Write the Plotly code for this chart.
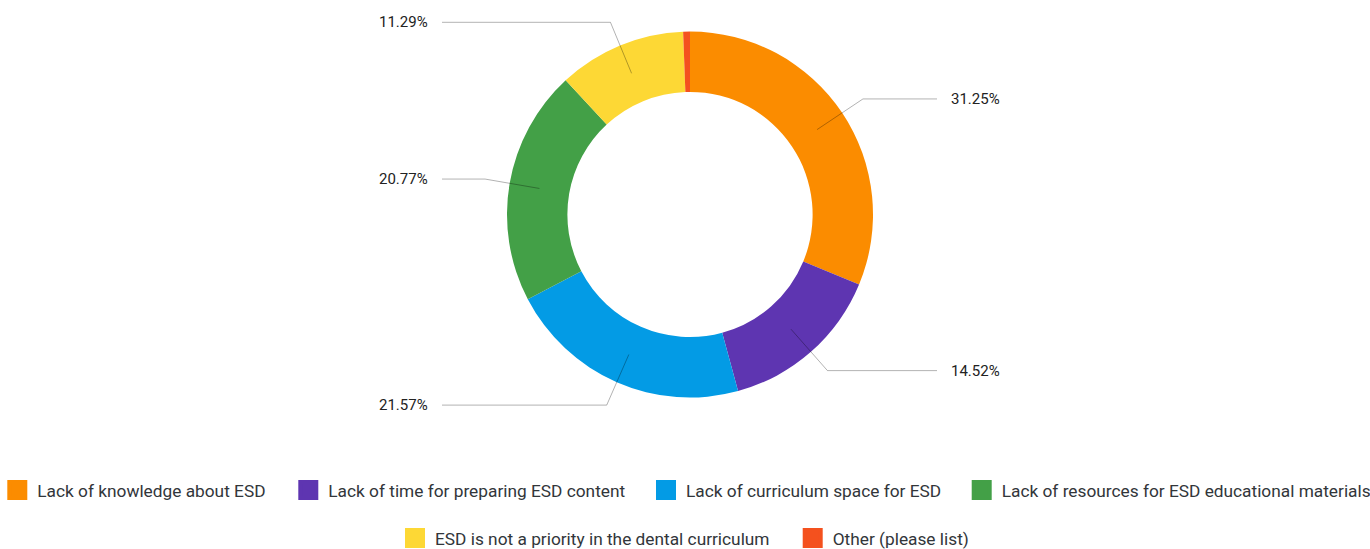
import math
import plotly.graph_objects as go

W, H = 1370, 549

# ---- data ----
labels = [
    "Lack of knowledge about ESD",
    "Lack of time for preparing ESD content",
    "Lack of curriculum space for ESD",
    "Lack of resources for ESD educational materials",
    "ESD is not a priority in the dental curriculum",
    "Other (please list)",
]
values = [31.25, 14.52, 21.57, 20.77, 11.29, 0.60]
colors = ["#FB8C00", "#5E35B1", "#039BE5", "#43A047", "#FDD835", "#F4511E"]

# ---- layout constants (pixels) ----
CX, CY, R = 690, 214.5, 183
HOLE = 0.67
ELBOW = R + 25
LINE_END_R, LINE_END_L = 937, 442
TEXT_R, TEXT_L = 949, 430
FONT = "Roboto"

legend_rows = [0, 0, 0, 0, 1, 1]
legend_text_x = [37.3, 328.3, 686, 1001.7, 435, 832.7]
row_center_y = [490, 538]


def px(x):
    return x / W


def py(y):
    return 1 - y / H


fig = go.Figure()
fig.add_trace(go.Pie(
    labels=labels, values=values, sort=False, direction="clockwise",
    rotation=0, hole=HOLE, textinfo="none", showlegend=False,
    marker=dict(colors=colors, line=dict(width=0)),
    domain=dict(x=[px(CX - R), px(CX + R)], y=[py(CY + R), py(CY - R)]),
    hovertemplate="%{label}: %{value:.2f}%<extra></extra>",
))

# leader lines + labels computed from the values
total = sum(values)
cum = 0.0
shapes, annotations = [], []
r_mid = R * (1 + HOLE) / 2
for lab, v in zip(labels, values):
    mid = (cum + v / 2) / total * 2 * math.pi
    cum += v
    pct = v / total * 100
    if pct < 1:
        continue
    sx, sy = CX + r_mid * math.sin(mid), CY - r_mid * math.cos(mid)
    ex, ey = CX + ELBOW * math.sin(mid), CY - ELBOW * math.cos(mid)
    right = math.sin(mid) >= 0
    hx = LINE_END_R if right else LINE_END_L
    path = f"M{px(sx)},{py(sy)} L{px(ex)},{py(ey)} L{px(hx)},{py(ey)}"
    shapes.append(dict(type="path", xref="paper", yref="paper", path=path,
                       line=dict(color="rgba(0,0,0,0.3)", width=1)))
    annotations.append(dict(
        xref="paper", yref="paper", x=px(TEXT_R if right else TEXT_L), y=py(ey),
        xanchor="left" if right else "right", yanchor="middle",
        text=f"{pct:.2f}%", showarrow=False,
        font=dict(family=FONT, size=15, color="#222222")))

# legend entries, one legend per entry so they sit like the original
legend_font = 17.3
line_h = legend_font * 1.3
item_h = max(line_h, 16) + 3
layout_legends = {}
for i, (lab, c) in enumerate(zip(labels, colors)):
    lid = "legend" if i == 0 else f"legend{i + 1}"
    fig.add_trace(go.Scatter(
        x=[None], y=[None], mode="markers", name=lab, legend=lid,
        marker=dict(symbol="square", size=16, color=c, line=dict(color=c, width=4)),
        hoverinfo="skip"))
    top = row_center_y[legend_rows[i]] - (5 + item_h / 2)
    layout_legends[lid] = dict(
        x=px(legend_text_x[i] - 40), xanchor="left",
        y=py(top), yanchor="top", orientation="h",
        bgcolor="rgba(0,0,0,0)", borderwidth=0,
        font=dict(family=FONT, size=legend_font, color="#32363A"))

fig.update_layout(
    width=W, height=H,
    margin=dict(l=0, r=0, t=0, b=0, autoexpand=False),
    paper_bgcolor="white", plot_bgcolor="white",
    xaxis=dict(visible=False), yaxis=dict(visible=False),
    shapes=shapes, annotations=annotations,
    font=dict(family=FONT),
    **layout_legends,
)

fig.write_html("out.html")
